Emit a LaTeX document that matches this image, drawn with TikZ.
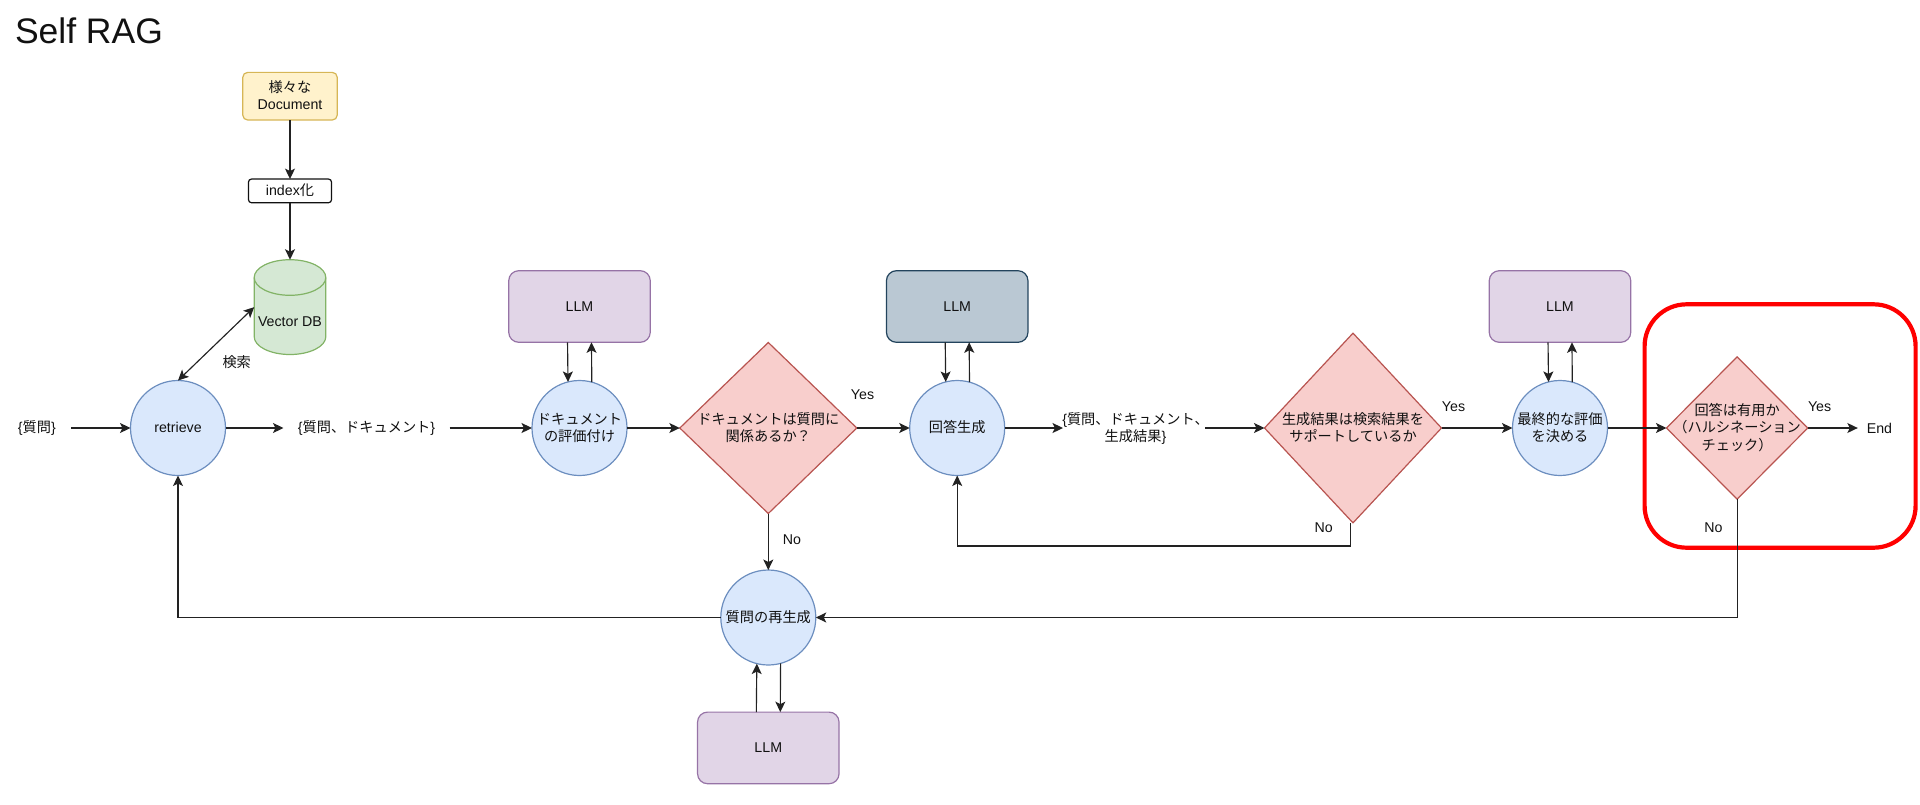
\documentclass[tikz,border=0pt]{standalone}
\usepackage{fontspec}
\setmainfont{Liberation Sans}
\newfontfamily\jpf{Noto Sans CJK JP}
\usetikzlibrary{arrows.meta,shapes.geometric,calc}
\newcommand\J[1]{{\jpf #1}}
\newcommand\zt[2][0pt]{\makebox[0pt]{\hspace*{#1}\raisebox{-5pt}[0pt][0pt]{\begin{tabular}{@{}c@{}}#2\end{tabular}}}}
\definecolor{blueF}{HTML}{DAE8FC}\definecolor{blueD}{HTML}{6C8EBF}
\definecolor{redF}{HTML}{F8CECC}\definecolor{redD}{HTML}{B85450}
\definecolor{greenF}{HTML}{D5E8D4}\definecolor{greenD}{HTML}{82B366}
\definecolor{yelF}{HTML}{FFF2CC}\definecolor{yelD}{HTML}{D6B656}
\definecolor{purF}{HTML}{E1D5E7}\definecolor{purD}{HTML}{9673A6}
\definecolor{grayF}{HTML}{BAC8D3}\definecolor{grayD}{HTML}{23445D}
\definecolor{ink}{HTML}{111111}
\definecolor{wire}{HTML}{222222}
\tikzset{
 every node/.style={inner sep=0pt,outer sep=0pt,text=ink,font=\fontsize{14.2}{17.7}\selectfont},
 shapeline/.style={line width=1.2pt},
 proc/.style={shapeline,circle,draw=blueD,fill=blueF,minimum size=95pt},
 choice/.style={shapeline,diamond,draw=redD,fill=redF},
 llmbox/.style={shapeline,rectangle,rounded corners=10pt,draw=purD,fill=purF,minimum width=141.5pt,minimum height=71.6pt},
 plain/.style={rectangle,minimum height=18pt},
 arr/.style={line width=1.15pt,draw=wire,-{Stealth[length=10.5pt,width=10pt,inset=2.5pt]}},
 biarr/.style={line width=1.15pt,draw=wire,{Stealth[length=10.5pt,width=10pt,inset=2.5pt]}-{Stealth[length=10.5pt,width=10pt,inset=2.5pt]}},
}
\begin{document}
\begin{tikzpicture}[x=1pt,y=-1pt]
\useasboundingbox (0,0) rectangle (1920,804);
\node[anchor=base west,font=\fontsize{35.5}{40}\selectfont] (title) at (15,43) {Self RAG};
% highlight
\node[rectangle,draw=red,line width=4.2pt,rounded corners=42pt,minimum width=271pt,minimum height=243.4pt] (hl) at (1780.1,426) {};
% top stack
\node[shapeline,rectangle,rounded corners=5pt,draw=yelD,fill=yelF,minimum width=94.5pt,minimum height=47.7pt] (doc) at (290,96.2) {\zt{\J{様々な}\\Document}};
\node[shapeline,rectangle,rounded corners=3pt,draw=ink,fill=white,minimum width=83pt,minimum height=23.7pt] (idx) at (290,190.9) {\zt{index\J{化}}};
\draw[shapeline,draw=greenD,fill=greenF] (254.2,277.5) arc[start angle=180,end angle=0,x radius=35.8pt,y radius=17.8pt] -- (325.8,336.7) arc[start angle=0,end angle=-180,x radius=35.8pt,y radius=17.8pt] -- cycle;
\draw[shapeline,draw=greenD] (254.2,277.5) arc[start angle=180,end angle=360,x radius=35.8pt,y radius=17.8pt];
\node[rectangle,minimum width=71.6pt,minimum height=94.8pt] (db) at (290,307.1) {\raisebox{-14.7pt}[0pt][0pt]{\zt{Vector DB}}};
\node (kensaku) at (236.7,361.7) {\J{検索}};
% LLMs
\node[llmbox] (llmA) at (579.5,306.5) {\zt{LLM}};
\node[llmbox,draw=grayD,fill=grayF] (llmB) at (957.2,306.5) {\zt{LLM}};
\node[llmbox] (llmC) at (1560,306.5) {\zt{LLM}};
\node[llmbox] (llmD) at (768.3,747.9) {\zt{LLM}};
% process circles
\node[proc] (ret) at (178,428) {\zt{retrieve}};
\node[proc] (grade) at (579.5,428) {\zt{\J{ドキュメント}\\\J{の評価付け}}};
\node[proc] (gen) at (957.2,428) {\zt{\J{回答生成}}};
\node[proc] (final) at (1560,428) {\zt{\J{最終的な評価}\\\J{を決める}}};
\node[proc] (rewrite) at (768.3,617.5) {\zt{\J{質問の再生成}}};
% decisions
\node[choice,minimum width=177pt,minimum height=171pt,aspect=1.035] (dA) at (768.3,428) {\zt{\J{ドキュメントは質問に}\\\J{関係あるか？}}};
\node[choice,minimum width=177pt,minimum height=189.7pt,aspect=0.933] (dB) at (1353,428) {\zt{\J{生成結果は検索結果を}\\\J{サポートしているか}}};
\node[choice,minimum width=141.3pt,minimum height=142.3pt,aspect=0.993] (dC) at (1737.1,428) {\zt{\J{回答は有用か}\\\J{（ハルシネーション}\\\J{チェック）}}};
% free text
\node[plain,minimum width=69pt] (q0) at (36.9,428) {\zt{\{\J{質問}\}}};
\node[plain,minimum width=166pt] (q1) at (366.5,428) {\zt{\{\J{質問、ドキュメント}\}}};
\node[plain,minimum width=142pt] (q2) at (1134,428) {\zt[3pt]{\{\J{質問、ドキュメント、}\\\J{生成結果}\}}};
\node[plain,anchor=west] (endn) at (1857.8,428) {\hspace*{9pt}End};
\node (yesA) at (862.5,395) {Yes};
\node (noA) at (792,540) {No};
\node (yesB) at (1453.5,406.7) {Yes};
\node (noB) at (1323.7,527.7) {No};
\node (yesC) at (1819.6,406.7) {Yes};
\node (noC) at (1713.5,527.7) {No};
% connectors
\draw[arr] (doc.south) -- (idx.north);
\draw[arr] (idx.south) -- (db.north);
\draw[biarr] (ret.north) -- (db.west);
\draw[arr] (q0.east) -- (ret.west);
\draw[arr] (ret.east) -- (q1.west);
\draw[arr] (q1.east) -- (grade.west);
\draw[arr] (grade.east) -- (dA.west);
\draw[arr] (dA.east) -- (gen.west);
\draw[arr] (gen.east) -- (q2.west);
\draw[arr] (q2.east) -- (dB.west);
\draw[arr] (dB.east) -- (final.west);
\draw[arr] (final.east) -- (dC.west);
\draw[arr] (dC.east) -- (endn.west);
\draw[arr] (dA.south) -- (rewrite.north);
\draw[arr] ([xshift=-11.97pt]llmA.south) -- (grade.104.6);
\draw[arr] (grade.75.4) -- ([xshift=11.97pt]llmA.south);
\draw[arr] ([xshift=-11.97pt]llmB.south) -- (gen.104.6);
\draw[arr] (gen.75.4) -- ([xshift=11.97pt]llmB.south);
\draw[arr] ([xshift=-11.97pt]llmC.south) -- (final.104.6);
\draw[arr] (final.75.4) -- ([xshift=11.97pt]llmC.south);
\draw[arr] ([xshift=-11.97pt]llmD.north) -- (rewrite.-104.6);
\draw[arr] (rewrite.-75.4) -- ([xshift=11.97pt]llmD.north);
\coordinate (fbB) at ($(dB.south)+(-2.4,0)$);
\coordinate (fbC) at (fbB |- 0,546);
\draw[arr] (fbB) -- (fbC) -- (fbC -| gen.south) -- (gen.south);
\draw[arr] (dC.south) -- (dC.south |- rewrite.east) -- (rewrite.east);
\draw[arr] (rewrite.west) -- (rewrite.west -| ret.south) -- (ret.south);
\end{tikzpicture}
\end{document}
